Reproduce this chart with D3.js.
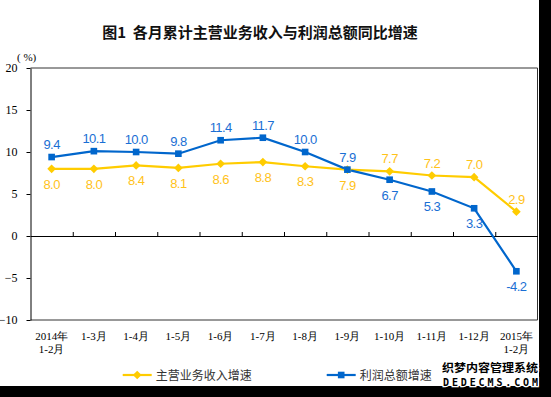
<!DOCTYPE html>
<html>
<head>
<meta charset="utf-8">
<script src="https://cdn.jsdelivr.net/npm/d3@7"></script>
<style>
  body { margin: 0; background: #fff; }
  svg { display: block; }
</style>
</head>
<body>
<script>
"use strict";

// data
const months = ["2014年|1-2月", "1-3月", "1-4月", "1-5月", "1-6月", "1-7月",
    "1-8月", "1-9月", "1-10月", "1-11月", "1-12月", "2015年|1-2月"]
const revenue = [8.0, 8.0, 8.4, 8.1, 8.6, 8.8, 8.3, 7.9, 7.7, 7.2, 7.0, 2.9]
const profit = [9.4, 10.1, 10.0, 9.8, 11.4, 11.7, 10.0, 7.9, 6.7, 5.3, 3.3, -4.2]
const yTicks = [-10, -5, 0, 5, 10, 15, 20]
const seriesNames = ["主营业务收入增速", "利润总额增速"]

const m = { width: 551, height: 397, left: 30.5, right: 537.5, top: 68, bottom: 320 }
const blue = "#0066cc"
const yellow = "#ffcc00"
const serif = "'Liberation Serif', 'Times New Roman', serif"
const cjk = "'Noto Sans CJK SC', sans-serif"

const svg = d3.select("body").append("svg")
    .attr("width", m.width)
    .attr("height", m.height)

// scales
const x = d3.scaleBand()
    .domain(months)
    .range([m.left, m.right])
    .padding(0)
const xEdge = d3.scaleLinear()
    .domain([0, months.length])
    .range([m.left, m.right])
const y = d3.scaleLinear()
    .domain([-10, 20])
    .range([m.bottom, m.top])
const cx = (d, i) => x(months[i]) + x.bandwidth() / 2

// title
svg.append("text")
    .attr("x", 260)
    .attr("y", 38)
    .attr("text-anchor", "middle")
    .style("font-family", cjk)
    .style("font-size", "15px")
    .style("font-weight", "bold")
    .style("white-space", "pre")
    .style("fill", "#111")
    .text("图1  各月累计主营业务收入与利润总额同比增速")

svg.append("text")
    .attr("x", 17)
    .attr("y", 61)
    .style("font-family", serif)
    .style("font-size", "11px")
    .style("white-space", "pre")
    .text("( %)")

// frame (top / right / bottom)
svg.append("path")
    .attr("d", `M${m.left},${m.top}H${m.right}V${m.bottom}H${m.left}`)
    .attr("fill", "none")
    .attr("stroke", "#333")
    .attr("stroke-width", 1)

// y axis
const yAxis = d3.axisLeft(y)
    .tickValues(yTicks)
    .tickSize(4)
    .tickSizeOuter(0)
    .tickPadding(9)
const gy = svg.append("g")
    .attr("transform", `translate(${m.left},0)`)
    .call(yAxis)
gy.select(".domain").attr("stroke", "#000")
gy.selectAll("text")
    .style("font-family", serif)
    .style("font-size", "12px")
    .style("fill", "#000")

// zero line with category separators pointing up
const zeroAxis = d3.axisTop(xEdge)
    .tickValues(d3.range(1, months.length))
    .tickSize(4)
    .tickSizeOuter(0)
    .tickFormat("")
svg.append("g")
    .attr("transform", `translate(0,${y(0)})`)
    .call(zeroAxis)
    .select(".domain").attr("stroke", "#000")

// category labels
const xl = svg.append("g")
    .selectAll("text")
    .data(months)
    .enter()
    .append("text")
    .attr("x", d => x(d) + x.bandwidth() / 2)
    .attr("y", 340)
    .attr("text-anchor", "middle")
    .style("font-family", serif)
    .style("font-size", "11px")
    .style("fill", "#000")
xl.each(function(d) {
    const parts = d.split("|")
    d3.select(this).selectAll("tspan")
        .data(parts)
        .enter()
        .append("tspan")
        .attr("x", x(d) + x.bandwidth() / 2)
        .attr("dy", (p, i) => i === 0 ? 0 : 13)
        .text(p => p)
})

// lines
const line = d3.line()
    .x(cx)
    .y(d => y(d))

svg.append("path")
    .datum(revenue)
    .attr("d", line)
    .attr("fill", "none")
    .attr("stroke", yellow)
    .attr("stroke-width", 2.2)

svg.append("path")
    .datum(profit)
    .attr("d", line)
    .attr("fill", "none")
    .attr("stroke", blue)
    .attr("stroke-width", 2.2)

// markers
const diamond = d3.symbol().type(d3.symbolDiamond2).size(48)
const square = d3.symbol().type(d3.symbolSquare).size(44)

svg.append("g").selectAll("path")
    .data(revenue)
    .enter()
    .append("path")
    .attr("d", diamond)
    .attr("transform", (d, i) => `translate(${cx(d, i)},${y(d)})`)
    .attr("fill", yellow)

svg.append("g").selectAll("path")
    .data(profit)
    .enter()
    .append("path")
    .attr("d", square)
    .attr("transform", (d, i) => `translate(${cx(d, i)},${y(d)})`)
    .attr("fill", blue)

// value labels: profit on top while it is >= revenue, otherwise below
function labels(values, color, isProfit) {
    svg.append("g").selectAll("text")
        .data(values)
        .enter()
        .append("text")
        .attr("x", cx)
        .attr("y", (d, i) => {
            const above = isProfit ? profit[i] >= revenue[i] : profit[i] < revenue[i]
            return y(d) + (above ? -8 : 20)
        })
        .attr("text-anchor", "middle")
        .style("font-family", "'Liberation Sans', Arial, sans-serif")
        .style("font-size", "13px")
        .style("letter-spacing", "-0.6px")
        .style("fill", color)
        .text(d => d.toFixed(1))
}
labels(profit, "#1a6fd4", true)
labels(revenue, "#ffc21a", false)

// legend
const legend = [
    { name: seriesNames[0], color: yellow, sym: diamond, x0: 122.7 },
    { name: seriesNames[1], color: blue, sym: square, x0: 326.7 }
]
const lg = svg.append("g").selectAll("g")
    .data(legend)
    .enter()
    .append("g")
    .attr("transform", d => `translate(${d.x0},375)`)
lg.append("line")
    .attr("x1", 0).attr("x2", 29)
    .attr("stroke", d => d.color)
    .attr("stroke-width", 2.2)
lg.append("path")
    .attr("d", d => d.sym())
    .attr("transform", "translate(14.5,0)")
    .attr("fill", d => d.color)
lg.append("text")
    .attr("x", 33)
    .attr("y", 4.5)
    .style("font-family", cjk)
    .style("font-size", "12px")
    .style("fill", "#333")
    .text(d => d.name)

// dark border strips of the picture
svg.append("rect")
    .attr("x", 539).attr("y", 0)
    .attr("width", 12).attr("height", m.height)
    .attr("fill", "#000")
svg.append("rect")
    .attr("x", 0).attr("y", 386)
    .attr("width", m.width).attr("height", 11)
    .attr("fill", "#000")

// site watermark
svg.append("text")
    .attr("x", 442)
    .attr("y", 372)
    .attr("textLength", 96)
    .attr("lengthAdjust", "spacingAndGlyphs")
    .style("font-family", cjk)
    .style("font-size", "11px")
    .style("font-weight", "bold")
    .style("fill", "#000")
    .style("stroke", "#fff")
    .style("stroke-width", 2.5)
    .style("paint-order", "stroke")
    .text("织梦内容管理系统")
svg.append("text")
    .attr("x", 443)
    .attr("y", 386)
    .attr("textLength", 95)
    .attr("lengthAdjust", "spacing")
    .style("font-family", "'DejaVu Sans Mono', monospace")
    .style("font-size", "10px")
    .style("font-weight", "bold")
    .style("fill", "#000")
    .style("stroke", "#fff")
    .style("stroke-width", 2.5)
    .style("paint-order", "stroke")
    .text("DEDECMS.COM")
</script>
</body>
</html>
